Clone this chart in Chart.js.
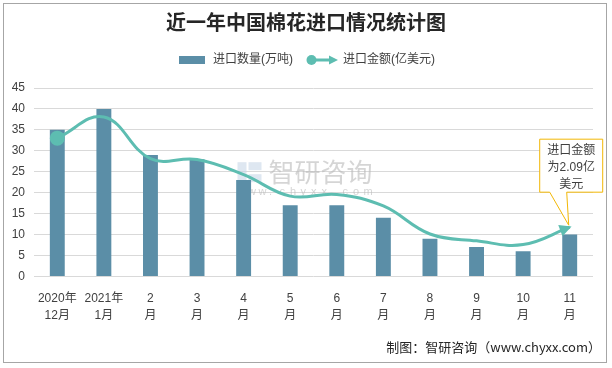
<!DOCTYPE html>
<html>
<head>
<meta charset="utf-8">
<script src="https://cdn.jsdelivr.net/npm/chart.js@4/dist/chart.umd.min.js"></script>
<style>
  html, body { margin: 0; padding: 0; background: #fff; }
  #wrap { position: relative; width: 612px; height: 368px; }
  #frame { position: absolute; left: 3px; top: 3px; width: 602px; height: 358px; border: 1px solid #a6a6a6; pointer-events: none; }
  canvas { position: absolute; left: 0; top: 0; }
</style>
</head>
<body>
<div id="wrap">
  <canvas id="chart" width="612" height="368"></canvas>
  <div id="frame"></div>
</div>
<script>
// 数据
const months = [
  ['2020年', '12月'], ['2021年', '1月'], ['2', '月'], ['3', '月'], ['4', '月'], ['5', '月'],
  ['6', '月'], ['7', '月'], ['8', '月'], ['9', '月'], ['10', '月'], ['11', '月']
];
const qty = [35, 40, 29, 28, 23, 17, 17, 14, 9, 7, 6, 10];            // 进口数量(万吨)
const amount = [5.87, 6.77, 5.0, 4.96, 4.32, 3.41, 3.48, 2.99, 1.8, 1.51, 1.35, 2.09]; // 进口金额(亿美元)
const calloutText = ['进口金额', '为2.09亿', '美元'];

const barColor = '#5b8ea7';
const lineColor = '#5dbdb1';
const fontCN = "'Liberation Sans', 'Noto Sans CJK SC', sans-serif";

// legend swatches
const barSwatch = document.createElement('canvas');
barSwatch.width = 26; barSwatch.height = 8;
let c = barSwatch.getContext('2d');
c.fillStyle = barColor; c.fillRect(0, 0, 26, 8);

const lineSwatch = document.createElement('canvas');
lineSwatch.width = 32; lineSwatch.height = 12;
c = lineSwatch.getContext('2d');
c.strokeStyle = lineColor; c.fillStyle = lineColor; c.lineWidth = 3;
c.beginPath(); c.moveTo(5, 6); c.lineTo(25, 6); c.stroke();
c.beginPath(); c.arc(5.5, 6, 5, 0, Math.PI * 2); c.fill();
c.beginPath(); c.moveTo(32, 6); c.lineTo(23, 1.5); c.lineTo(23, 10.5); c.closePath(); c.fill();
const swatches = [barSwatch, lineSwatch];

// extra space under the legend
const legendGap = {
  id: 'legendGap',
  beforeInit(chart) {
    const fit = chart.legend.fit;
    chart.legend.fit = function () {
      fit.bind(chart.legend)();
      this.height += 12;
    };
  }
};

// watermark + arrow head + callout + footer
const extras = {
  id: 'extras',
  beforeDatasetsDraw(chart) {
    const { ctx, chartArea: a } = chart;
    const cx = (a.left + a.right) / 2, cy = (a.top + a.bottom) / 2;
    ctx.save();
    ctx.fillStyle = 'rgba(200,215,232,0.6)';
    ctx.fillRect(cx - 76, cy - 20, 9, 20);
    ctx.fillRect(cx - 65, cy - 20, 13, 8);
    ctx.fillRect(cx - 65, cy - 8, 13, 8);
    ctx.fillStyle = 'rgba(185,185,185,0.6)';
    ctx.font = "26px 'Noto Sans CJK SC'";
    ctx.textBaseline = 'middle';
    ctx.fillText('智研咨询', cx - 45, cy - 10);
    ctx.font = "11px 'Liberation Sans'";
    const s = 'www.chyxx.com';
    for (let i = 0; i < s.length; i++) ctx.fillText(s[i], cx - 76 + i * 10.5, cy + 10);
    ctx.restore();
  },
  afterDatasetsDraw(chart) {
    const { ctx } = chart;
    const meta = chart.getDatasetMeta(1);
    const pts = meta.data;
    const p = pts[pts.length - 1];
    const prev = pts[pts.length - 2];
    const fx = p.cp1x !== undefined ? p.cp1x : prev.x;
    const fy = p.cp1y !== undefined ? p.cp1y : prev.y;
    const ang = Math.atan2(p.y - fy, p.x - fx);
    ctx.save();
    ctx.fillStyle = lineColor;
    ctx.translate(p.x, p.y);
    ctx.rotate(ang);
    ctx.beginPath();
    ctx.moveTo(2, 0); ctx.lineTo(-10, -6); ctx.lineTo(-10, 6); ctx.closePath(); ctx.fill();
    ctx.restore();

    // callout
    const L = p.x - 30, R = p.x + 33, T = p.y - 88, B = p.y - 35;
    ctx.save();
    ctx.fillStyle = '#fff';
    ctx.strokeStyle = '#f2b705';
    ctx.lineWidth = 1;
    ctx.beginPath();
    ctx.moveTo(L, T); ctx.lineTo(R, T); ctx.lineTo(R, B);
    ctx.lineTo(p.x - 3, B); ctx.lineTo(p.x - 1, p.y - 2); ctx.lineTo(p.x - 20, B);
    ctx.lineTo(L, B); ctx.closePath();
    ctx.fill(); ctx.stroke();
    ctx.fillStyle = '#404040';
    ctx.font = "12px " + fontCN;
    ctx.textAlign = 'center'; ctx.textBaseline = 'middle';
    calloutText.forEach((t, i) => ctx.fillText(t, (L + R) / 2, T + 12 + i * 17));
    ctx.restore();

    // footer
    ctx.save();
    ctx.fillStyle = '#262626';
    ctx.font = "13px 'Noto Sans CJK SC'";
    ctx.textAlign = 'right'; ctx.textBaseline = 'middle';
    ctx.fillText('制图：智研咨询（www.chyxx.com）', 601, 347);
    ctx.restore();
  }
};

new Chart(document.getElementById('chart').getContext('2d'), {
  type: 'bar',
  data: {
    labels: months,
    datasets: [{
      type: 'bar',
      label: '进口数量(万吨)',
      data: qty,
      backgroundColor: barColor,
      barPercentage: 0.64,
      categoryPercentage: 0.5,
      yAxisID: 'y',
      order: 2
    }, {
      type: 'line',
      label: '进口金额(亿美元)',
      data: amount,
      borderColor: lineColor,
      backgroundColor: lineColor,
      borderWidth: 3,
      tension: 0.4,
      pointStyle: 'circle',
      pointRadius: ctx => ctx.dataIndex === 0 ? 6 : 0,
      pointHoverRadius: 0,
      yAxisID: 'y1',
      order: 1
    }]
  },
  options: {
    responsive: false,
    animation: false,
    layout: { padding: { top: 10, left: 5, right: 5, bottom: 38 } },
    plugins: {
      title: {
        display: true,
        text: '近一年中国棉花进口情况统计图',
        color: '#262626',
        font: { family: fontCN, size: 20, weight: 'bold' },
        padding: { top: 2, bottom: 4 }
      },
      legend: {
        display: true,
        labels: {
          usePointStyle: true,
          pointStyleWidth: 30,
          color: '#404040',
          font: { family: fontCN, size: 12 },
          padding: 14,
          generateLabels(chart) {
            return chart.data.datasets.map((d, i) => ({
              text: d.label, pointStyle: swatches[i], fillStyle: d.backgroundColor,
              strokeStyle: 'transparent', lineWidth: 0, datasetIndex: i, fontColor: '#404040'
            }));
          }
        }
      },
      tooltip: { enabled: false }
    },
    scales: {
      x: {
        grid: { display: false },
        border: { display: false },
        ticks: { color: '#404040', font: { family: fontCN, size: 12, lineHeight: 1.4 }, maxRotation: 0, autoSkip: false, padding: 6 }
      },
      y: {
        min: 0, max: 45,
        afterFit(scale) { scale.width = 29; },
        ticks: { stepSize: 5, color: '#404040', font: { family: fontCN, size: 12 }, padding: 9 },
        grid: { color: '#d9d9d9', drawTicks: false },
        border: { display: false }
      },
      y1: {
        position: 'right',
        min: 0, max: 8,
        afterFit(scale) { scale.width = 14; },
        ticks: { display: false },
        grid: { display: false },
        border: { display: false }
      }
    }
  },
  plugins: [legendGap, extras]
});
</script>
</body>
</html>
